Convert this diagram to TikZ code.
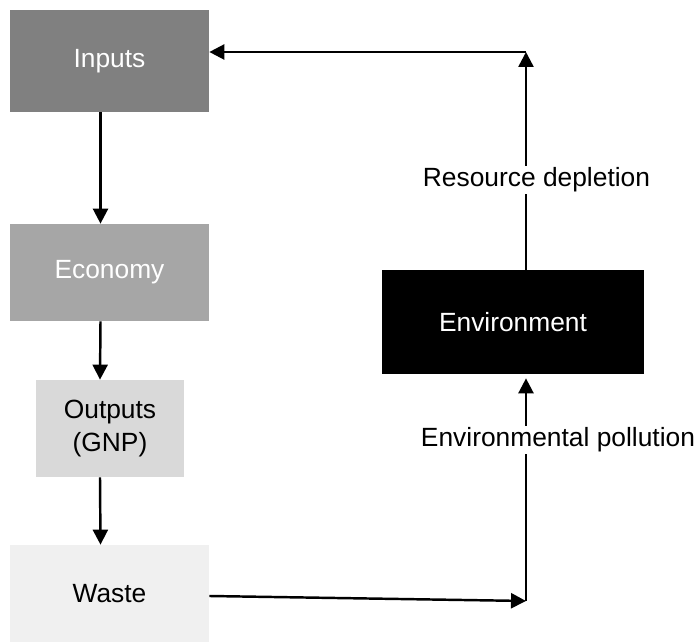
\documentclass[tikz,border=0pt]{standalone}
\usepackage{fontspec}
\setmainfont{Liberation Sans}
\definecolor{inputgray}{RGB}{128, 128, 128}
\definecolor{econgray}{RGB}{166, 166, 166}
\definecolor{outgray}{RGB}{217, 217, 217}
\definecolor{wastegray}{RGB}{240, 240, 240}
\usepackage{tikz}
\usetikzlibrary{arrows.meta, positioning}

\begin{document}
\begin{tikzpicture}[
    stagebox/.style={inner sep=0pt, align=center, font=\fontsize{15}{18.8}\selectfont},
    flow/.style={line width=1.4pt, -{Triangle[length=0.3cm, width=0.3cm]}},
    flowlabel/.style={fill=white, inner sep=1pt, font=\fontsize{15}{18.8}\selectfont}
  ]
  \useasboundingbox (0, 0) rectangle (13.96, 12.84);

  % Left column
  \node[stagebox, fill=inputgray, text=white, minimum width=3.98cm, minimum height=2.04cm] (inputs) at (2.19, 11.62) {Inputs};
  \node[stagebox, fill=econgray, text=white, minimum width=3.98cm, minimum height=1.94cm] (economy) at (2.19, 7.39) {Economy};
  \node[stagebox, fill=outgray, minimum width=2.96cm, minimum height=1.94cm] (outputs) at (2.20, 4.27) {Outputs\\(GNP)};
  \node[stagebox, fill=wastegray, minimum width=3.98cm, minimum height=1.94cm] (waste) at (2.19, 0.97) {Waste};

  \draw[flow] ([xshift=-0.18cm]inputs.south) -- ([xshift=-0.18cm]economy.north);
  \draw[flow] ([xshift=-0.18cm]economy.south) -- ([xshift=-0.2cm]outputs.north);
  \draw[flow] ([xshift=-0.2cm]outputs.south) -- ([xshift=-0.18cm]waste.north);

  % Environment
  \node[stagebox, fill=black, text=white, minimum width=5.24cm, minimum height=2.08cm] (env) at (10.26, 6.40) {Environment};

  \coordinate (topcorner) at (10.52, 11.80);
  \coordinate (botcorner) at (10.52, 0.82);

  % Loop back
  \draw[flow] ([yshift=-0.05cm]waste.east) -- (botcorner);
  \draw[flow] (botcorner) -- ([yshift=-0.08cm]env.south -| botcorner);
  \draw[flow] (env.north -| topcorner) -- (topcorner);
  \draw[flow] (topcorner) -- (inputs.east |- topcorner);

  \node[flowlabel] (depletion) at (10.73, 9.24) {Resource depletion};
  \node[flowlabel] (pollution) at (11.16, 4.04) {Environmental pollution};
\end{tikzpicture}
\end{document}
